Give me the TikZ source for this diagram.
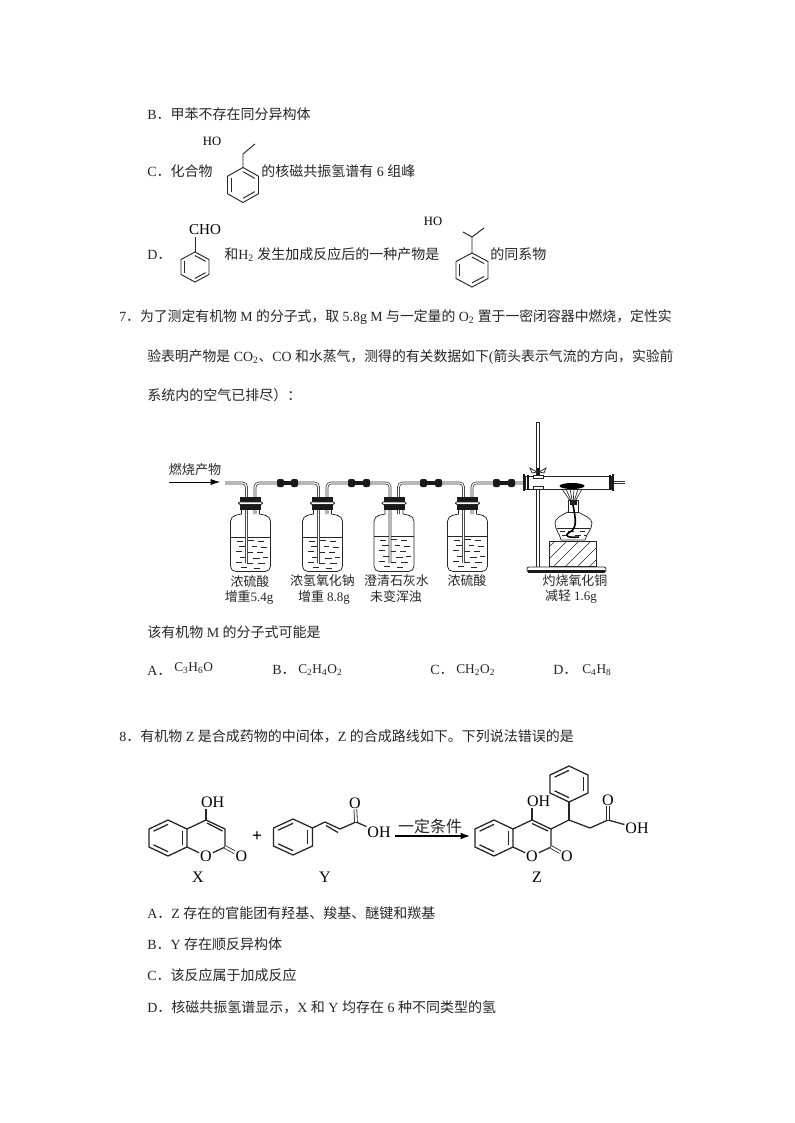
\documentclass[tikz,border=0pt]{standalone}
\usepackage{fontspec}
\setmainfont{Liberation Serif}
\newfontfamily\cjk{Noto Sans CJK SC}
\usetikzlibrary{arrows.meta}
\usetikzlibrary{calc}
\newcommand{\zh}[1]{{\cjk #1}}
\newcommand{\CHsub}[1]{\textsubscript{#1}}
\tikzset{
  textline/.style={anchor=west,inner sep=0pt,text height=10pt,text depth=1.8pt,font=\fontsize{10.5}{12}\selectfont,text=black!85},
  formula/.style={textline,font=\fontsize{10}{12}\selectfont},
  atom/.style={inner sep=0.6pt,font=\fontsize{12}{12}\selectfont},
  smallatom/.style={inner sep=0.6pt,font=\fontsize{9.5}{10}\selectfont},
  bond/.style={line width=0.7pt,black!85},
  dbond/.style={bond,double=white,double distance=1.5pt,line width=0.6pt},
  tube/.style={double=white,double distance=0.9pt,line width=0.55pt,black!80,rounded corners=3pt},
  glass/.style={line width=0.55pt,black!85},
  lab/.style={inner sep=0pt,font=\fontsize{9.7}{11}\selectfont,text=black!85},
  letter/.style={inner sep=0.6pt,font=\fontsize{12}{12}\selectfont}
}
% ring: name, centre, half width, radius, edges with an inner line
\newcommand{\CHRing}[5]{
  \coordinate (#1) at #2;
  \coordinate (#1-1) at ($#2 +(0,-#4)$);
  \coordinate (#1-2) at ($#2 +(#3,-#4/2)$);
  \coordinate (#1-3) at ($#2 +(#3,#4/2)$);
  \coordinate (#1-4) at ($#2 +(0,#4)$);
  \coordinate (#1-5) at ($#2 +(-#3,#4/2)$);
  \coordinate (#1-6) at ($#2 +(-#3,-#4/2)$);
  \draw [bond] (#1-1) -- (#1-2) -- (#1-3) -- (#1-4) -- (#1-5) -- (#1-6) -- cycle;
  \foreach \ea/\eb in {#5} {
    \draw [bond] ($(#1)!.76!(#1-\ea)$) -- ($(#1)!.76!(#1-\eb)$);
  }
}
\newcommand{\CHLiquidDashes}[2]{
  \foreach \dx/\dy/\dl in {-14/4/6,-4/3/7,7/4/6,-12/9/7,1/9/5,10/10/6,-15/14/6,-5/15/7,6/15/6,-11/20/7,2/21/7,12/20/5,-15/25/6,-4/26/6,7/26/7,-10/30/6,3/31/6} {
    \draw [line width=0.5pt,black!85] ($(#1,#2) +(\dx,\dy)$) -- ++(\dl,0);
  }
}
% bottle: name, centre x, level of the liquid
\newcommand{\CHBottle}[3]{
  \coordinate (#1-long) at (#2-4,563);
  \coordinate (#1-short) at (#2+4.5,514);
  \draw [glass] (#2-9,510) -- (#2-9,514) -- (#2-16,515.5) [rounded corners=4pt] -- (#2-20,516) -- (#2-20,571.5) -- (#2+20,571.5) -- (#2+20,516) [sharp corners] -- (#2+16,515.5) -- (#2+9,514) -- (#2+9,510);
  \draw [glass] (#2-20,#3) -- (#2+20,#3);
  \CHLiquidDashes{#2}{#3}
}
\newcommand{\CHStopper}[1]{
  \fill [black!90] (#1-10.5,497) rectangle (#1+10.5,502);
  \fill [black!90] (#1-10.5,504) rectangle (#1+10.5,510);
  \draw [glass,fill=white,rounded corners=1pt] (#1-12,502) rectangle (#1+12,504.5);
}
\newcommand{\CHConnector}[2]{
  \draw [line width=3.2pt,black!90] (#1,483) -- (#2,483);
  \fill [black!90,rounded corners=1.5pt] (#1,479) rectangle (#1+7,487);
  \fill [black!90,rounded corners=1.5pt] (#2-7,479) rectangle (#2,487);
}
\begin{document}
\begin{tikzpicture}[x=0.75pt,y=-0.75pt]
\useasboundingbox [fill=white] (0,0) rectangle (794,1123);

% option lines above the question
\node [textline] (optB) at (147,114) {B\zh{．甲苯不存在同分异构体}};
\node [textline] (optC) at (147,171) {C\zh{．化合物}};
\node [textline] (optCb) at (261,171) {\zh{的核磁共振氢谱有} 6 \zh{组峰}};
\node [textline] (optD) at (147,254) {D\zh{．}};
\node [textline] (optDb) at (224,254) {\zh{和}H\CHsub{2} \zh{发生加成反应后的一种产物是}};
\node [textline] (optDc) at (490,254) {\zh{的同系物}};

\CHRing{cring}{(243,185)}{15.5}{17.5}{1/2,3/4,5/6}
\node [smallatom] (cho) at (212,141) {HO};
\coordinate (ca) at (243,154);
\coordinate (cb) at (255,144);
\draw [bond] (cring-1) -- (ca) -- (cb);

\CHRing{dring}{(195,267)}{14}{15}{1/2,3/4,5/6}
\node [atom,font=\fontsize{11.3}{12}\selectfont] (dcho) at (205,230) {CHO};
\coordinate (da) at (195,237);
\draw [bond] (dring-1) -- (da);

\CHRing{ering}{(472,270)}{16}{17}{1/2,3/4,5/6}
\node [smallatom] (eho) at (433,221) {HO};
\coordinate (ea) at (472,237);
\coordinate (eb) at (463,232);
\coordinate (ec) at (484,228);
\draw [bond] (ering-1) -- (ea) -- (eb);
\draw [bond] (ea) -- (ec);

% question 7
\node [textline] (qsa) at (119,316) {\scalebox{.989}[1]{7\zh{．为了测定有机物} M \zh{的分子式，取} 5.8g M \zh{与一定量的} O\CHsub{2} \zh{置于一密闭容器中燃烧，定性实}}};
\node [textline] (qsb) at (147,356) {\scalebox{.989}[1]{\zh{验表明产物是} CO\CHsub{2}\zh{、}CO \zh{和水蒸气，测得的有关数据如下}(\zh{箭头表示气流的方向，实验前}}};
\node [textline] (qsc) at (147,395) {\zh{系统内的空气已排尽）：}};

% bottles
\CHBottle{ba}{250.5}{537}
\CHBottle{bb}{322.5}{537}
\CHBottle{bc}{394}{536}
\CHBottle{bd}{467.5}{536}

% tubes
\node [lab,font=\fontsize{9.8}{11}\selectfont] (burn) at (195,470) {\zh{燃烧产物}};
\coordinate (inA) at (169,482);
\coordinate (inB) at (220,482);
\draw [-{Latex[length=7pt,width=4.5pt]},line width=0.5pt] (inA) -- (inB);
\coordinate (tubein) at (225,483);
\coordinate (c1) at (287.5,483);
\coordinate (c2) at (359,483);
\coordinate (c3) at (431,483);
\coordinate (cuin) at (523,483);
\draw [tube] (tubein) -| (ba-long);
\draw [tube] (ba-short) |- (c1) -| (bb-long);
\draw [tube] (bb-short) |- (c2) -| (bc-long);
\draw [tube] (bc-short) |- (c3) -| (bd-long);
\draw [tube] (bd-short) |- (cuin);
\CHConnector{277}{298}
\CHConnector{348}{370}
\CHConnector{420}{442}
\CHConnector{493}{515}
\CHStopper{250.5}
\CHStopper{322.5}
\CHStopper{394}
\CHStopper{467.5}

% stand
\coordinate (rodtop) at (538,422);
\coordinate (rodbot) at (538,567);
\draw [glass,fill=white] ($(rodtop)+(-1.6,0)$) rectangle ($(rodbot)+(1.6,0)$);
\draw [glass,fill=white,rounded corners=1.5pt] (527,567) rectangle (606,572);
\fill [black!90] (528,570) rectangle (605,572.5);

% combustion tube
\coordinate (cuout) at (625,482.5);
\draw [tube] (610,482.5) -- (cuout);
\draw [glass,fill=white] (525,476) rectangle (611,489);
\fill [black!90] (523,474) rectangle (525,491);
\fill [black!90] (527,475) rectangle (528.5,490);
\fill [black!90] (609,475) rectangle (610.5,490);
\fill [black!90] (612,474) rectangle (614,491);
\draw [glass,fill=white] (533,475) rectangle (543,478);
\draw [glass,fill=white] (533,486) rectangle (543,489.5);
\fill [black!90] (536.5,468) rectangle (539.5,475);
\draw [glass,fill=white] (537,472) -- (530,468) -- (532,473) -- cycle;
\draw [glass,fill=white] (539,472) -- (546,468) -- (544,473) -- cycle;

% block with hatching
\begin{scope}
\clip (549,541) rectangle (596,566);
\foreach \hx in {530,542,...,620} {
  \draw [line width=0.5pt,black!85] (\hx,566) -- ++(28,-28);
}
\end{scope}
\draw [glass] (549,541) rectangle (596,566);

% lamp
\coordinate (lamptop) at (573,505);
\draw [glass,fill=white] (568,512) .. controls (562,515) and (555,518) .. (555,523) .. controls (555,530) and (560,534) .. (561,540) -- (585,540) .. controls (586,534) and (592,530) .. (592,523) .. controls (592,518) and (583,515) .. (578,512) -- cycle;
\draw [glass] (557,528) -- (590,528);
\foreach \lx/\ly/\ll in {560/531/5,568/531/6,580/531/5,562/535/6,575/535/6,584/535/3} {
  \draw [line width=0.5pt,black!85] (\lx,\ly) -- ++(\ll,0);
}
\draw [glass,fill=white] (568.5,500) rectangle (578,512);
\fill [black!90] (570,500) rectangle (577,505);
\draw [line width=1.2pt,black] (lamptop) .. controls (576,520) and (577,528) .. (570,532) .. controls (563,536) and (568,538) .. (579,537);
\foreach \rx in {562,566,570,574,578,582} {
  \draw [line width=0.5pt,black!85] (lamptop) -- (\rx,489);
}
\fill [black] (572,486) ellipse [x radius=12.5,y radius=3];

% labels of the apparatus
\node [lab] (la) at (250,582) {\zh{浓硫酸}};
\node [lab] (lb) at (249,597) {\zh{增重}5.4g};
\node [lab] (lc) at (322.5,581) {\zh{浓氢氧化钠}};
\node [lab] (ld) at (324,597) {\zh{增重} 8.8g};
\node [lab] (le) at (396.5,581) {\zh{澄清石灰水}};
\node [lab] (lf) at (396,597) {\zh{未变浑浊}};
\node [lab] (lg) at (467,581) {\zh{浓硫酸}};
\node [lab] (lh) at (575,581) {\zh{灼烧氧化铜}};
\node [lab] (li) at (571,596) {\zh{减轻} 1.6g};

\node [textline] (qma) at (147,632) {\zh{该有机物} M \zh{的分子式可能是}};
\node [textline] (ansA) at (147,670) {A\zh{．}};
\node [formula] (ansAf) at (174,666) {C\CHsub{3}H\CHsub{6}O};
\node [textline] (ansB) at (272,669) {B\zh{．}};
\node [formula] (ansBf) at (298,668) {C\CHsub{2}H\CHsub{4}O\CHsub{2}};
\node [textline] (ansC) at (430,669) {C\zh{．}};
\node [formula] (ansCf) at (456,668) {CH\CHsub{2}O\CHsub{2}};
\node [textline] (ansD) at (553,669) {D\zh{．}};
\node [formula] (ansDf) at (582,668) {C\CHsub{4}H\CHsub{8}};

% question 8
\node [textline] (qei) at (119,736) {8\zh{．有机物} Z \zh{是合成药物的中间体，}Z \zh{的合成路线如下。下列说法错误的是}};

\begin{scope}[bond/.append style={line width=0.95pt}]
% X
\CHRing{xa}{(168,838)}{19}{18}{6/1,4/5,2/3}
\coordinate (xb) at (206,820);
\coordinate (xc) at (225,829);
\coordinate (xd) at (225,847);
\node [atom] (xo) at (206,856) {O};
\node [atom] (xco) at (241.5,856) {O};
\node [atom,anchor=west] (xoh) at (200,802) {OH};
\draw [bond] (xa-2) -- (xb) -- (xc) -- (xd) -- (xo) -- (xa-3);
\draw [bond] ($(xb)+(1,3)$) -- ($(xc)+(-2.5,2)$);
\draw [bond] (xb) -- (206,809);
\draw [dbond] (xd) -- (xco);
\node [atom,font=\bfseries\fontsize{13}{13}\selectfont] (plus) at (257,837) {+};
\node [letter] (xlab) at (198,877) {X};

% Y
\CHRing{ya}{(293,837)}{19.5}{18}{6/1,4/5,2/3}
\coordinate (yb) at (325,822);
\coordinate (yc) at (340,829);
\coordinate (yd) at (356,822);
\node [atom] (yo) at (355,803) {O};
\node [atom] (yoh) at (379,832) {OH};
\draw [bond] (ya-2) -- (yb) -- (yc) -- (yd) -- (yoh);
\draw [bond] ($(yb)+(1,3.5)$) -- ($(yc)+(-2,3.5)$);
\draw [dbond] (yd) -- (yo);
\node [letter] (ylab) at (325,877) {Y};

% arrow
\coordinate (arra) at (395,836);
\coordinate (arrb) at (470,836);
\draw [-{Latex[length=7pt,width=5pt]},line width=0.9pt] (arra) -- (arrb);
\node [lab,font=\fontsize{12}{12}\selectfont] (cond) at (430,826) {\zh{一定条件}};

% Z
\CHRing{za}{(494,838)}{19}{18}{6/1,4/5,2/3}
\coordinate (zb) at (532,820);
\coordinate (zc) at (551,829);
\coordinate (zd) at (551,847);
\node [atom] (zo) at (532,856) {O};
\node [atom] (zco) at (567,856) {O};
\node [atom,anchor=west] (zoh) at (526,801) {OH};
\draw [bond] (za-2) -- (zb) -- (zc) -- (zd) -- (zo) -- (za-3);
\draw [bond] ($(zb)+(0,3.5)$) -- ($(zc)+(-3,2)$);
\draw [bond] (zb) -- (532,808);
\draw [dbond] (zd) -- (zco);
\CHRing{zr}{(569,784)}{19}{18}{6/1,4/5,2/3}
\coordinate (ze) at (569,820);
\coordinate (zf) at (590,828);
\coordinate (zg) at (608,820);
\node [atom] (zo2) at (608,800) {O};
\node [atom] (zoh2) at (637,828) {OH};
\draw [bond] (zc) -- (ze) -- (zf) -- (zg) -- (zoh2);
\draw [bond] (ze) -- (zr-4);
\draw [dbond] (zg) -- (zo2);
\node [letter] (zlab) at (537,877) {Z};
\end{scope}

% options of question 8
\node [textline] (opta) at (147,913) {A\zh{．}Z \zh{存在的官能团有羟基、羧基、醚键和羰基}};
\node [textline] (optb) at (147,944) {B\zh{．}Y \zh{存在顺反异构体}};
\node [textline] (optc) at (147,975) {C\zh{．该反应属于加成反应}};
\node [textline] (optd) at (147,1007) {D\zh{．核磁共振氢谱显示，}X \zh{和} Y \zh{均存在} 6 \zh{种不同类型的氢}};
\end{tikzpicture}
\end{document}
